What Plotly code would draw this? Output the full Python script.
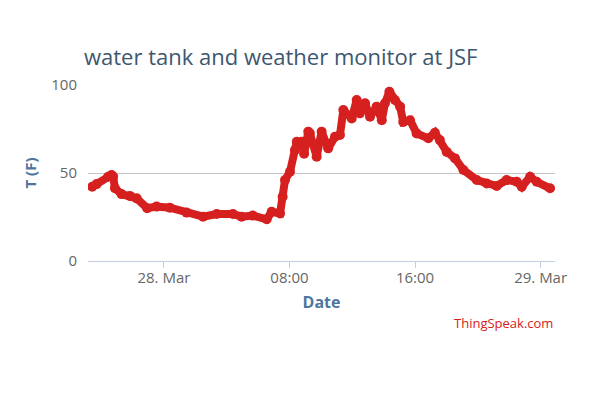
import plotly.graph_objects as go

times = [
    "2014-03-27 19:26", "2014-03-27 19:43", "2014-03-27 20:27", "2014-03-27 20:40",
    "2014-03-27 20:46", "2014-03-27 20:53", "2014-03-27 21:18", "2014-03-27 21:50",
    "2014-03-27 22:16", "2014-03-27 22:56", "2014-03-27 23:32", "2014-03-28 00:23",
    "2014-03-28 01:27", "2014-03-28 02:30", "2014-03-28 03:22", "2014-03-28 04:24",
    "2014-03-28 04:57", "2014-03-28 05:40", "2014-03-28 06:33", "2014-03-28 06:52",
    "2014-03-28 07:24", "2014-03-28 07:34", "2014-03-28 07:43", "2014-03-28 08:02",
    "2014-03-28 08:21", "2014-03-28 08:28", "2014-03-28 08:40", "2014-03-28 08:47",
    "2014-03-28 08:56", "2014-03-28 09:12", "2014-03-28 09:18", "2014-03-28 09:44",
    "2014-03-28 10:03", "2014-03-28 10:28", "2014-03-28 10:54", "2014-03-28 11:13",
    "2014-03-28 11:26", "2014-03-28 11:58", "2014-03-28 12:17", "2014-03-28 12:29",
    "2014-03-28 12:49", "2014-03-28 13:08", "2014-03-28 13:33", "2014-03-28 13:53",
    "2014-03-28 14:05", "2014-03-28 14:22", "2014-03-28 14:43", "2014-03-28 15:03",
    "2014-03-28 15:15", "2014-03-28 15:41", "2014-03-28 16:06", "2014-03-28 16:51",
    "2014-03-28 17:16", "2014-03-28 17:35", "2014-03-28 18:01", "2014-03-28 18:33",
    "2014-03-28 19:05", "2014-03-28 19:56", "2014-03-28 20:34", "2014-03-28 21:12",
    "2014-03-28 21:50", "2014-03-28 22:29", "2014-03-28 22:48", "2014-03-28 23:20",
    "2014-03-28 23:45", "2014-03-29 00:36",
]
temps = [
    42.2, 43.7, 47.9, 48.9,
    48.0, 41.3, 38.0, 37.0,
    35.6, 30.0, 30.9, 30.3,
    27.5, 25.2, 26.7, 26.7,
    25.2, 25.8, 23.7, 28.0,
    27.0, 36.5, 46.0, 50.7,
    63.0, 67.8, 65.9, 67.8,
    61.0, 73.5, 72.5, 59.3,
    73.5, 64.0, 70.6, 71.6,
    85.8, 81.0, 91.5, 83.9,
    89.6, 82.0, 87.7, 80.0,
    89.6, 96.2, 91.5, 87.7,
    79.0, 80.0, 72.5, 69.7,
    72.9, 68.7, 62.0, 58.3,
    51.7, 46.0, 44.0, 42.6,
    46.0, 45.0, 42.2, 47.9,
    45.0, 41.3,
]

x_tick_vals = ["2014-03-28 00:00", "2014-03-28 08:00", "2014-03-28 16:00", "2014-03-29 00:00"]
x_tick_text = ["28. Mar", "08:00", "16:00", "29. Mar"]
y_tick_vals = [0, 50, 100]
x_range = ["2014-03-27 19:10", "2014-03-29 00:55"]

W, H = 592, 392  # page body has an 8px margin

fig = go.Figure()
fig.add_trace(go.Scatter(
    x=times, y=temps, mode="lines+markers",
    line=dict(color="#D62020", width=8),
    marker=dict(color="#D62020", size=10),
    hoverinfo="x+y", showlegend=False,
))

fig.update_layout(
    width=W, height=H,
    margin=dict(l=80, r=45, t=77, b=139),
    paper_bgcolor="white", plot_bgcolor="white",
    font=dict(family="Open Sans, DejaVu Sans, sans-serif", color="#666666"),
    title=dict(
        text="water tank and weather monitor at JSF",
        x=76 / W, xref="container", xanchor="left",
        y=1 - 49 / H, yref="container", yanchor="middle",
        font=dict(size=22, color="#3E576F", family="Open Sans, DejaVu Sans, sans-serif"),
    ),
    xaxis=dict(
        type="date", range=x_range,
        tickmode="array", tickvals=x_tick_vals, ticktext=x_tick_text,
        showgrid=False, zeroline=False,
        showline=True, linecolor="#C0D0E0", linewidth=1,
        ticks="outside", ticklen=6, tickcolor="#C0D0E0",
        ticklabelstandoff=-3,
        tickfont=dict(size=15, color="#666666"),
        title=dict(text="<b>Date</b>", font=dict(size=16, color="#4D759E"), standoff=10),
    ),
    yaxis=dict(
        range=[0, 100], tickmode="array", tickvals=y_tick_vals,
        showgrid=True, gridcolor="#C8C8C8", gridwidth=1,
        zeroline=False, showline=False,
        ticks="", ticklabelstandoff=10,
        tickfont=dict(size=15, color="#666666"),
        title=dict(text="<b>T (F)</b>", font=dict(size=15, color="#4D759E"), standoff=11),
    ),
    annotations=[dict(
        text="ThingSpeak.com", xref="paper", yref="paper",
        x=1, y=0, xanchor="right", yanchor="middle",
        yshift=-(323 - 261), showarrow=False,
        font=dict(size=13, color="#D62020"),
    )],
)

fig.write_html("out.html")
